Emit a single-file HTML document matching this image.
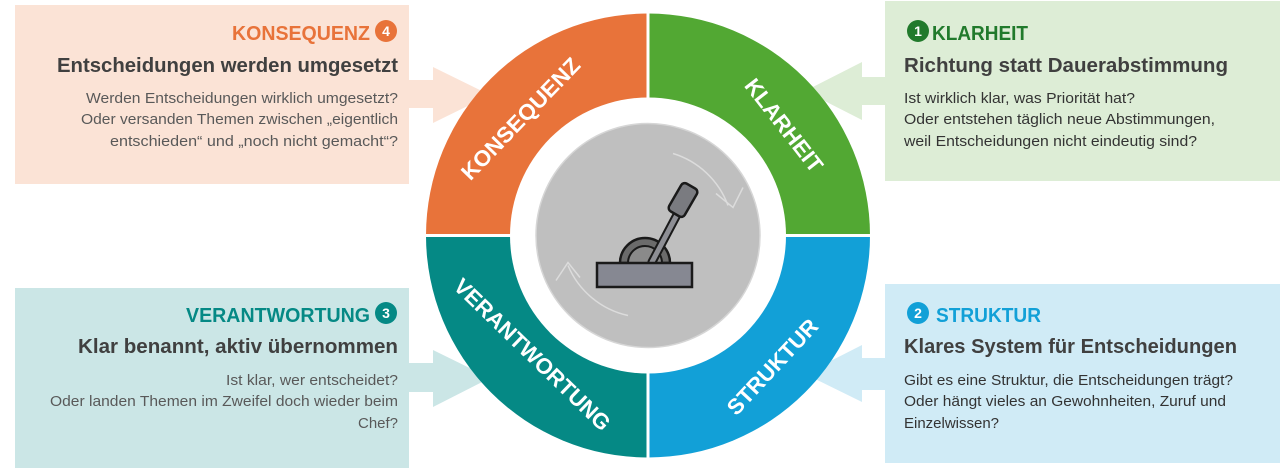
<!DOCTYPE html>
<html><head><meta charset="utf-8"><style>
html,body{margin:0;padding:0;background:#fff;}
svg{display:block;}
text{font-family:"Liberation Sans",sans-serif;}
</style></head><body>
<svg width="1280" height="468" viewBox="0 0 1280 468" xmlns="http://www.w3.org/2000/svg">
<!-- boxes -->
<rect x="15" y="5" width="394" height="179" fill="#FBE3D6"/>
<rect x="885" y="1" width="395" height="180" fill="#DDEDD6"/>
<rect x="15" y="288" width="394" height="180" fill="#CBE6E6"/>
<rect x="885" y="284" width="395" height="179" fill="#D0EBF6"/>
<!-- arrows -->
<polygon points="409,80 433,80 433,67 490,95 433,123 433,108 409,108" fill="#FBE3D6"/>
<polygon points="409,363 433,363 433,350 490,378 433,407 433,392 409,392" fill="#CBE6E6"/>
<polygon points="885,77 862,77 862,62 805,91 862,120 862,105 885,105" fill="#DDEDD6"/>
<polygon points="885,358 862,358 862,345 805,374 862,402 862,390 885,390" fill="#D0EBF6"/>
<!-- ring -->
<g transform="translate(648,235.5)">
<path d="M0,0 L0,-222 A222,222 0 0 1 222,0 Z" fill="#52A833"/>
<path d="M0,0 L222,0 A222,222 0 0 1 0,222 Z" fill="#12A0D7"/>
<path d="M0,0 L0,222 A222,222 0 0 1 -222,0 Z" fill="#058985"/>
<path d="M0,0 L-222,0 A222,222 0 0 1 0,-222 Z" fill="#E8733A"/>
<line x1="0" y1="-223" x2="0" y2="223" stroke="#fff" stroke-width="3"/>
<line x1="-223" y1="0" x2="223" y2="0" stroke="#fff" stroke-width="3"/>
<circle r="138" fill="#fff"/>
<circle r="112" fill="#BFBFBF" stroke="#d6d6d6" stroke-width="1.5"/>
<path d="M25,-82 A85,85 0 0 1 80,-30" fill="none" stroke="#dcdcdc" stroke-width="1.5"/>
<polyline points="68,-42 85,-28 95,-48" fill="none" stroke="#dcdcdc" stroke-width="1.5"/>
<path d="M-20,80 A85,85 0 0 1 -80,30" fill="none" stroke="#dcdcdc" stroke-width="1.5"/>
<polyline points="-68,42 -80,27 -92,45" fill="none" stroke="#dcdcdc" stroke-width="1.5"/>
</g>
<!-- ring labels -->
<g fill="#fff" font-weight="bold" font-size="22">
<text x="526" y="124" text-anchor="middle" transform="rotate(-46 526 124)" textLength="160" lengthAdjust="spacingAndGlyphs">KONSEQUENZ</text>
<text x="778" y="130" text-anchor="middle" transform="rotate(52 778 130)" textLength="112" lengthAdjust="spacingAndGlyphs">KLARHEIT</text>
<text x="527" y="360" text-anchor="middle" transform="rotate(44 527 360)" textLength="208" lengthAdjust="spacingAndGlyphs">VERANTWORTUNG</text>
<text x="778" y="372" text-anchor="middle" transform="rotate(-47 778 372)" textLength="122" lengthAdjust="spacingAndGlyphs">STRUKTUR</text>
</g>
<!-- lever -->
<g stroke="#1a1a1a" stroke-width="2.5">
<path d="M620,263 A25,25 0 0 1 670,263 Z" fill="#6b6b6b"/>
<path d="M628,263 A17,17 0 0 1 662,263 Z" fill="#8a8a8a" stroke-width="2"/>
<line x1="652" y1="262" x2="679" y2="211" stroke="#1a1a1a" stroke-width="9" stroke-linecap="round"/>
<line x1="652" y1="262" x2="679" y2="211" stroke="#8d8e94" stroke-width="5" stroke-linecap="round"/>
<rect x="674" y="184" width="18" height="32" rx="4" transform="rotate(30 683 200)" fill="#7a7b80"/>
<rect x="597" y="263" width="95" height="24" fill="#868892"/>
</g>
<!-- text boxes -->
<g font-size="15" fill="#595959">
<!-- TL -->
<text x="370" y="40" text-anchor="end" font-size="20" font-weight="bold" fill="#E8733A" textLength="138" lengthAdjust="spacingAndGlyphs">KONSEQUENZ</text>
<circle cx="386" cy="31" r="11" fill="#E8733A"/>
<text x="386" y="36" text-anchor="middle" font-size="14" font-weight="bold" fill="#fff">4</text>
<text x="398" y="72" text-anchor="end" font-size="20" font-weight="bold" fill="#404040" textLength="341" lengthAdjust="spacingAndGlyphs">Entscheidungen werden umgesetzt</text>
<text x="398" y="103" text-anchor="end" textLength="312" lengthAdjust="spacingAndGlyphs">Werden Entscheidungen wirklich umgesetzt?</text>
<text x="398" y="124" text-anchor="end" textLength="317" lengthAdjust="spacingAndGlyphs">Oder versanden Themen zwischen „eigentlich</text>
<text x="398" y="146" text-anchor="end" textLength="288" lengthAdjust="spacingAndGlyphs">entschieden“ und „noch nicht gemacht“?</text>
<!-- TR -->
<circle cx="918" cy="31" r="11" fill="#217A2C"/>
<text x="918" y="36" text-anchor="middle" font-size="14" font-weight="bold" fill="#fff">1</text>
<text x="932" y="40" font-size="20" font-weight="bold" fill="#217A2C" textLength="96" lengthAdjust="spacingAndGlyphs">KLARHEIT</text>
<text x="904" y="72" font-size="20" font-weight="bold" fill="#404040" textLength="324" lengthAdjust="spacingAndGlyphs">Richtung statt Dauerabstimmung</text>
<text x="904" y="103" fill="#333" textLength="231" lengthAdjust="spacingAndGlyphs">Ist wirklich klar, was Priorität hat?</text>
<text x="904" y="124" fill="#333" textLength="311" lengthAdjust="spacingAndGlyphs">Oder entstehen täglich neue Abstimmungen,</text>
<text x="904" y="146" fill="#333" textLength="293" lengthAdjust="spacingAndGlyphs">weil Entscheidungen nicht eindeutig sind?</text>
<!-- BL -->
<text x="370" y="322" text-anchor="end" font-size="20" font-weight="bold" fill="#058985" textLength="184" lengthAdjust="spacingAndGlyphs">VERANTWORTUNG</text>
<circle cx="386" cy="313" r="11" fill="#058985"/>
<text x="386" y="318" text-anchor="middle" font-size="14" font-weight="bold" fill="#fff">3</text>
<text x="398" y="353" text-anchor="end" font-size="20" font-weight="bold" fill="#404040" textLength="320" lengthAdjust="spacingAndGlyphs">Klar benannt, aktiv übernommen</text>
<text x="398" y="385" text-anchor="end" textLength="172" lengthAdjust="spacingAndGlyphs">Ist klar, wer entscheidet?</text>
<text x="398" y="406" text-anchor="end" textLength="348" lengthAdjust="spacingAndGlyphs">Oder landen Themen im Zweifel doch wieder beim</text>
<text x="398" y="428" text-anchor="end" textLength="40" lengthAdjust="spacingAndGlyphs">Chef?</text>
<!-- BR -->
<circle cx="918" cy="313" r="11" fill="#12A0D7"/>
<text x="918" y="318" text-anchor="middle" font-size="14" font-weight="bold" fill="#fff">2</text>
<text x="936" y="322" font-size="20" font-weight="bold" fill="#12A0D7" textLength="105" lengthAdjust="spacingAndGlyphs">STRUKTUR</text>
<text x="904" y="353" font-size="20" font-weight="bold" fill="#404040" textLength="333" lengthAdjust="spacingAndGlyphs">Klares System für Entscheidungen</text>
<text x="904" y="385" fill="#333" textLength="329" lengthAdjust="spacingAndGlyphs">Gibt es eine Struktur, die Entscheidungen trägt?</text>
<text x="904" y="406" fill="#333" textLength="322" lengthAdjust="spacingAndGlyphs">Oder hängt vieles an Gewohnheiten, Zuruf und</text>
<text x="904" y="428" fill="#333" textLength="95" lengthAdjust="spacingAndGlyphs">Einzelwissen?</text>
</g>
</svg>
</body></html>
